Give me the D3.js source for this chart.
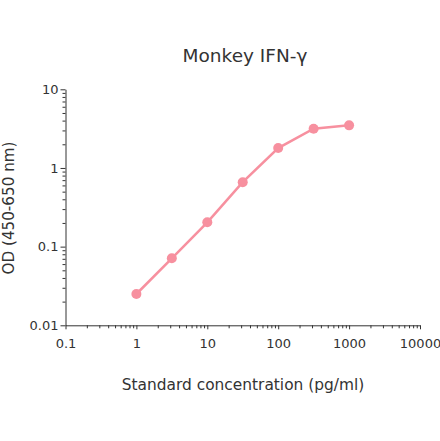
<!DOCTYPE html>
<html>
<head>
<meta charset="utf-8">
<script src="https://cdn.jsdelivr.net/npm/d3@7"></script>
<style>
  body { margin: 0; background: #fff; }
  text { font-family: "DejaVu Sans", Verdana, sans-serif; fill: #333; }
</style>
</head>
<body>
<div id="chart"></div>
<script>
// standard curve values
const concentrations = [1, 3.16, 10, 31.6, 100, 316, 1000]
const odValues = [0.025, 0.071, 0.204, 0.66, 1.79, 3.15, 3.48]
const xTicks = [0.1, 1, 10, 100, 1000, 10000]
const yTicks = [0.01, 0.1, 1, 10]

const W = 440, H = 441
const pink = "#f7909f"

const svg = d3.select("#chart").append("svg")
  .attr("width", W)
  .attr("height", H)

const xScale = d3.scaleLog([0.1, 10000], [65.5, 420])
const yScale = d3.scaleLog([0.01, 10], [325.3, 89.3])

// minor ticks 2..9 in every decade
function minorTicks(lo, hi) {
  let out = []
  for (let d = lo; d < hi; d *= 10) {
    for (let k = 2; k <= 9; k++) out.push(d * k)
  }
  return out
}

// x-axis
let xAxis = svg.append("g").attr("transform", `translate(0, ${yScale(0.01)})`)
xAxis.call(d3.axisBottom(xScale).tickValues(minorTicks(0.1, 10000)).tickSize(3).tickFormat(""))
xAxis.call(g => g.select(".domain").remove())
let xMajor = svg.append("g").attr("transform", `translate(0, ${yScale(0.01)})`)
  .call(d3.axisBottom(xScale).tickValues(xTicks).tickSize(4).tickSizeOuter(0).tickPadding(9)
    .tickFormat(d => String(d)))
xMajor.selectAll("text").style("font-size", "13px").attr("fill", "#333")

// y-axis
let yAxis = svg.append("g").attr("transform", `translate(${xScale(0.1)}, 0)`)
yAxis.call(d3.axisLeft(yScale).tickValues(minorTicks(0.01, 10)).tickSize(3).tickFormat(""))
yAxis.call(g => g.select(".domain").remove())
let yMajor = svg.append("g").attr("transform", `translate(${xScale(0.1)}, 0)`)
  .call(d3.axisLeft(yScale).tickValues(yTicks).tickSize(5).tickSizeOuter(0).tickPadding(2)
    .tickFormat(d => String(d)))
yMajor.selectAll("text").style("font-size", "13px").attr("fill", "#333")

svg.selectAll(".tick line, .domain").attr("stroke", "#333")

const points = concentrations.map((c, i) => ({ x: c, y: odValues[i] }))

const dMaker = d3.line()
  .x(d => xScale(d.x))
  .y(d => yScale(d.y))

svg.append("path")
  .datum(points)
  .attr("fill", "none")
  .attr("stroke", pink)
  .attr("stroke-width", 2.5)
  .attr("d", dMaker)

svg.selectAll("circle.pt")
  .data(points)
  .enter()
  .append("circle")
  .attr("class", "pt")
  .attr("cx", d => xScale(d.x))
  .attr("cy", d => yScale(d.y))
  .attr("r", 5)
  .attr("fill", pink)

// titles
svg.append("text")
  .attr("x", 245).attr("y", 62)
  .attr("text-anchor", "middle")
  .style("font-size", "18.5px")
  .text("Monkey IFN-γ")

svg.append("text")
  .attr("x", 243).attr("y", 390)
  .attr("text-anchor", "middle")
  .style("font-size", "15.4px")
  .text("Standard concentration (pg/ml)")

svg.append("text")
  .attr("transform", "translate(14, 208) rotate(-90)")
  .attr("text-anchor", "middle")
  .style("font-size", "15.2px")
  .text("OD (450-650 nm)")
</script>
</body>
</html>
